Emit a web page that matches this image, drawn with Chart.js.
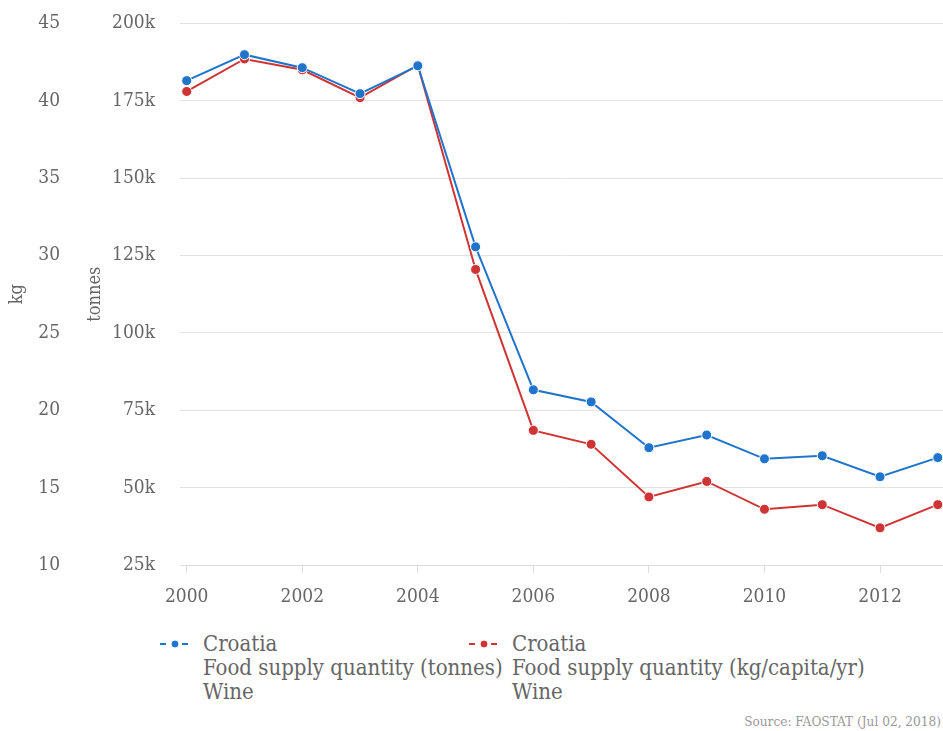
<!DOCTYPE html>
<html>
<head>
  <title>Croatia Wine Food Supply</title>
  <script src="https://cdn.jsdelivr.net/npm/chart.js"></script>
  <style>
    body { margin: 0; background: #fff; font-family: "DejaVu Serif Condensed", "DejaVu Serif", serif; color: #666; }
    #wrap { position: relative; width: 943px; height: 731px; overflow: hidden; }
    #myChart { position: absolute; left: 0; top: -13px; }
    .item { position: absolute; top: 632px; font-size: 22px; line-height: 24px; color: #666; }
    .item svg { position: absolute; left: -45px; top: 5px; }
    #source { position: absolute; right: 2px; top: 713px; font-size: 13.5px; color: #999; }
  </style>
</head>
<body>
  <div id="wrap">
    <canvas id="myChart" width="949" height="630"></canvas>
    <div class="item" style="left:203px">
      <svg width="34" height="14"><line x1="2" y1="7" x2="32" y2="7" stroke="#1f74cc" stroke-width="2" stroke-dasharray="6,5"/><circle cx="17" cy="7" r="4" fill="#1f74cc" stroke="#fff" stroke-width="1"/></svg>
      Croatia<br>Food supply quantity (tonnes)<br>Wine
    </div>
    <div class="item" style="left:512px">
      <svg width="34" height="14"><line x1="2" y1="7" x2="32" y2="7" stroke="#d03333" stroke-width="2" stroke-dasharray="6,5"/><circle cx="17" cy="7" r="4" fill="#d03333" stroke="#fff" stroke-width="1"/></svg>
      Croatia<br>Food supply quantity (kg/capita/yr)<br>Wine
    </div>
    <div id="source">Source: FAOSTAT (Jul 02, 2018)</div>
  </div>

  <script>
// años y valores
const years = [2000, 2001, 2002, 2003, 2004, 2005, 2006, 2007, 2008, 2009, 2010, 2011, 2012, 2013];
const tonnes = [181500, 189900, 185700, 177300, 186300, 127800, 81600, 77700, 62900, 67000, 59300, 60300, 53500, 59700];
const kgCapita = [40.6, 42.7, 42.0, 40.2, 42.3, 29.1, 18.7, 17.8, 14.4, 15.4, 13.6, 13.9, 12.4, 13.9];
const xTicks = [2000, 2002, 2004, 2006, 2008, 2010, 2012];

const FONT = '"DejaVu Serif Condensed", "DejaVu Serif", serif';
const GREY = '#666';
const BLUE = '#1f74cc';
const RED = '#d03333';

const pts = (vals) => years.map((y, i) => ({ x: y, y: vals[i] }));

const myChart = new Chart(document.getElementById('myChart'), {
  type: 'line',
  data: {
    datasets: [{
      label: 'Food supply quantity (tonnes)',
      data: pts(tonnes),
      yAxisID: 'yT',
      borderColor: BLUE,
      backgroundColor: BLUE,
      pointBorderColor: '#fff',
      pointBorderWidth: 1,
      pointRadius: 5,
      borderWidth: 2,
      tension: 0
    }, {
      label: 'Food supply quantity (kg/capita/yr)',
      data: pts(kgCapita),
      yAxisID: 'yK',
      borderColor: RED,
      backgroundColor: RED,
      pointBorderColor: '#fff',
      pointBorderWidth: 1,
      pointRadius: 5,
      borderWidth: 2,
      tension: 0
    }]
  },
  options: {
    responsive: false,
    animation: false,
    layout: { padding: { top: 10, right: 0, left: 0, bottom: 0 } },
    plugins: { legend: { display: false }, tooltip: { enabled: false } },
    scales: {
      x: {
        type: 'linear',
        min: 1999.884,
        max: 2013.09,
        afterBuildTicks: (s) => { s.ticks = xTicks.map(v => ({ value: v })); },
        afterFit: (s) => { s.height = 52; },
        grid: { display: true, drawOnChartArea: false, drawTicks: true, tickLength: 8, color: '#ddd' },
        border: { color: '#ddd' },
        ticks: { color: GREY, font: { family: FONT, size: 19 }, padding: 13, callback: (v) => String(v) }
      },
      yK: {
        position: 'left',
        weight: 1,
        min: 10,
        max: 45,
        afterFit: (s) => { s.width = 75; },
        ticks: { stepSize: 5, color: GREY, font: { family: FONT, size: 19 }, padding: 15 },
        grid: { display: false, drawTicks: false },
        border: { display: false },
        title: { display: true, text: 'kg', color: GREY, font: { family: FONT, size: 18 }, padding: { top: 7, bottom: 0 } }
      },
      yT: {
        position: 'left',
        weight: 0,
        min: 25000,
        max: 200000,
        afterFit: (s) => { s.width = 105; },
        ticks: { stepSize: 25000, color: GREY, font: { family: FONT, size: 19 }, padding: 25,
          callback: (v) => (v / 1000) + 'k' },
        grid: { color: '#e3e3e3', drawTicks: false },
        border: { display: false },
        title: { display: true, text: 'tonnes', color: GREY, font: { family: FONT, size: 18 }, padding: { top: 10, bottom: 0 } }
      }
    }
  }
});
  </script>
</body>
</html>
